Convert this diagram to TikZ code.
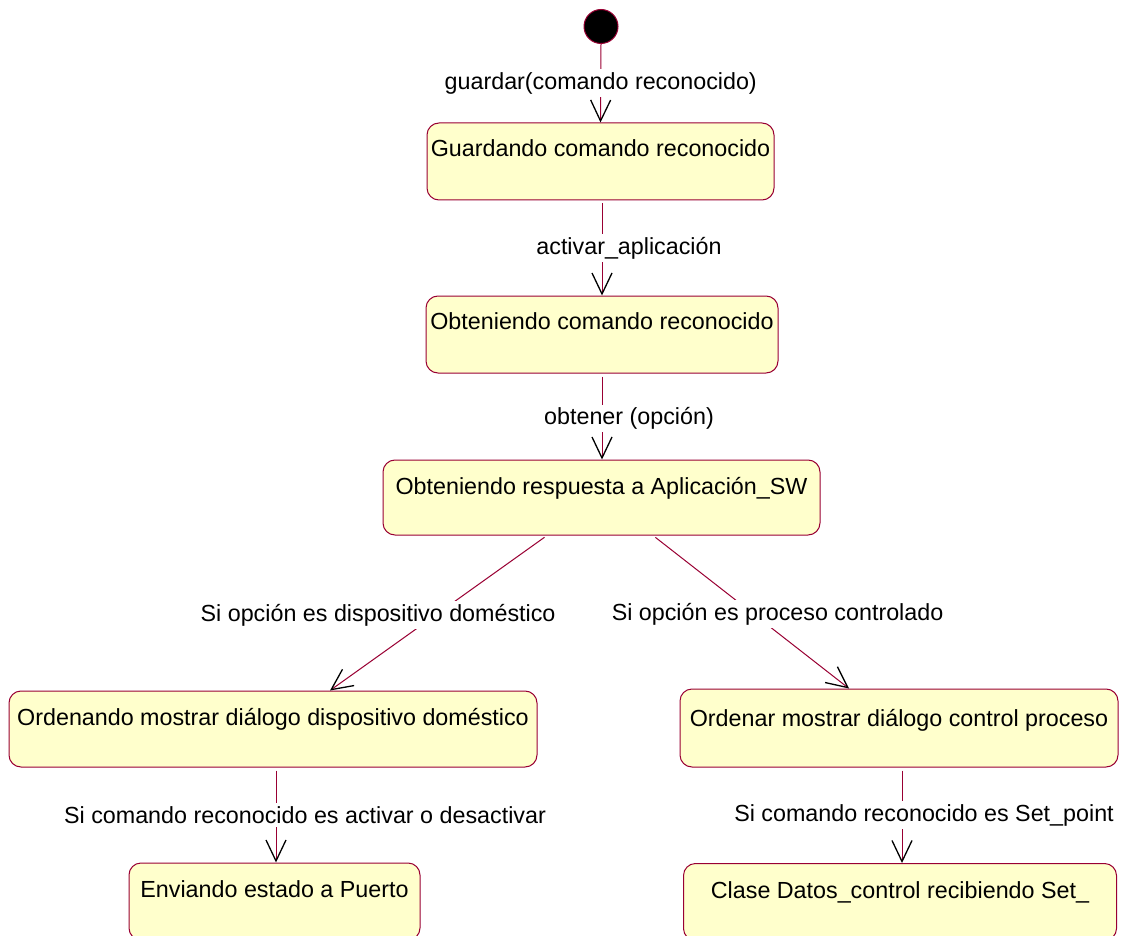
\documentclass[tikz,border=0pt]{standalone}
\usepackage{fontspec}
\setmainfont{Liberation Sans}
\usetikzlibrary{arrows.meta}
\definecolor{umlline}{RGB}{153,0,51}
\definecolor{umlfill}{RGB}{255,255,204}

\begin{document}
\begin{tikzpicture}[x=1pt,y=-1pt,
  every node/.style={font=\fontsize{23.3}{28}\selectfont},
  state/.style={draw=umlline, fill=umlfill, line width=1pt, rounded corners=12pt,
    inner xsep=2pt, inner ysep=0pt, text height=34pt, text depth=43pt},
  initial/.style={circle, draw=umlline, fill=black, line width=1pt,
    minimum size=34pt, inner sep=0pt},
  trans/.style={draw=umlline, line width=1pt, shorten <=3pt,
    -{Straight Barb[length=21pt,width=20pt,line width=1.3pt,color=black]}},
  lbl/.style={fill=white, inner sep=3pt}]

\useasboundingbox (0,0) rectangle (1125,936);
\clip (0,0) rectangle (1125,936);

% states
\node[initial] (init) at (601,26.5) {};
\node[state, minimum width=347pt] (s1) at (600.5,161.5) {Guardando comando reconocido};
\node[state, minimum width=352pt] (s2) at (602,334.5) {Obteniendo comando reconocido};
\node[state, minimum width=437pt, text depth=41pt] (s3) at (601.5,497.5) {Obteniendo respuesta a Aplicación\_SW};
\node[state, minimum width=528pt, text depth=42pt] (s4l) at (273,729) {Ordenando mostrar diálogo dispositivo doméstico};
\node[state, minimum width=438pt, text height=37pt, text depth=41pt] (s4r) at (899,728) {Ordenar mostrar diálogo control proceso};
\node[state, minimum width=291pt] (s5l) at (274.5,901.5) {Enviando estado a Puerto};
\node[state, minimum width=433pt, text height=35pt, text depth=42pt] (s5r) at (900,902) {Clase Datos\_control recibiendo Set\_};

% transitions
\draw[trans, shorten <=0pt] (init.south) -- node[lbl]{guardar(comando reconocido)} (s1.north);
\draw[trans] (s2.north |- s1.south) -- node[lbl, xshift=27pt]{activar\_aplicación} (s2.north);
\draw[trans] (s2.south) -- node[lbl, xshift=27pt, yshift=-2pt]{obtener (opción)} (s2.south |- s3.north);
\draw[trans] ([xshift=-54.5pt]s3.south) -- node[lbl, pos=0.513, xshift=-57.6pt]{Si opción es dispositivo doméstico} ([xshift=57pt]s4l.north);
\draw[trans] ([xshift=51.5pt]s3.south) -- node[lbl, pos=0.513, xshift=24pt]{Si opción es proceso controlado} ([xshift=-50pt]s4r.north);
\draw[trans] ([xshift=3pt]s4l.south) -- node[lbl, xshift=29pt]{Si comando reconocido es activar o desactivar} ([xshift=3pt]s4l.south |- s5l.north);
\draw[trans] ([xshift=3pt]s4r.south) -- node[lbl, xshift=22pt]{Si comando reconocido es Set\_point} ([xshift=3pt]s4r.south |- s5r.north);
\end{tikzpicture}
\end{document}
